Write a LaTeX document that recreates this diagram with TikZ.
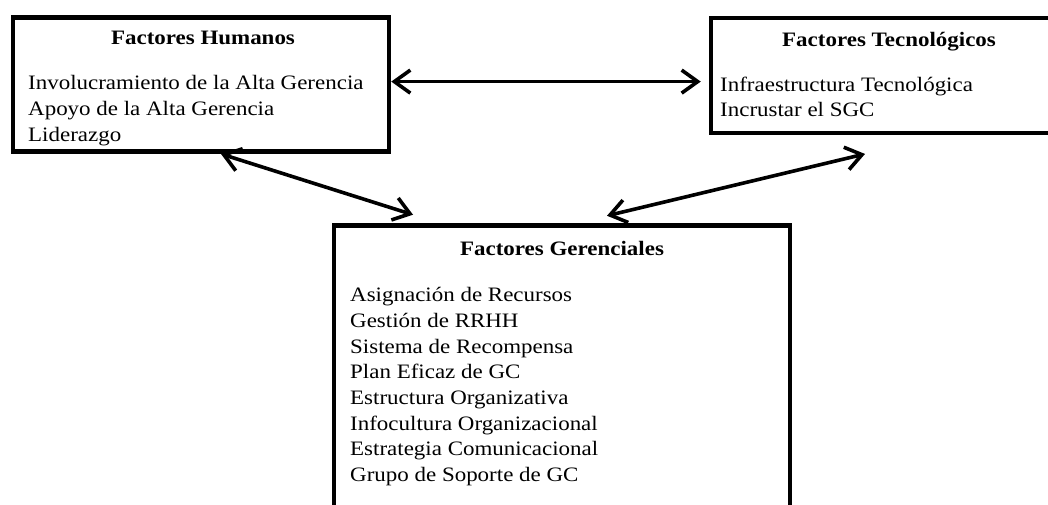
\documentclass[tikz,border=0pt]{standalone}
\usepackage{fontspec}
\setmainfont{Liberation Serif}[FakeStretch=1.12]
\usetikzlibrary{arrows.meta}
\tikzset{
  box/.style={draw=black, line width=4.5pt, rectangle, inner sep=0pt},
  head/.style={font=\fontsize{20.5}{26}\selectfont\bfseries, inner sep=0pt, anchor=base},
  body/.style={font=\fontsize{20.5}{26}\selectfont, inner sep=0pt, anchor=base west},
  arr/.style={line width=3.6pt, line cap=round,
    {Straight Barb[length=16pt,width=23pt]}-{Straight Barb[length=16pt,width=23pt]}}
}
\begin{document}
\begin{tikzpicture}[x=1pt,y=-1pt]
\useasboundingbox (0,0) rectangle (1048,505);
\clip (0,0) rectangle (1048,505);
% boxes
\node[box, minimum width=376pt, minimum height=134.2pt] (hum) at (201,84.6) {};
\node[box, minimum width=356pt, minimum height=115pt] (tec) at (889,75.5) {};
\node[box, minimum width=456pt, minimum height=340pt] (ger) at (562,395.5) {};
% headers
\node[head] (humh) at (203,45) {Factores Humanos};
\node[head] (tech) at (889,46.7) {Factores Tecnológicos};
\node[head] (gerh) at (562,255) {Factores Gerenciales};
% body lines
\foreach \t [count=\i] in {Involucramiento de la Alta Gerencia, Apoyo de la Alta Gerencia, Liderazgo}
  \node[body] (humb\i) at (28,{89.3+26.2*(\i-1)}) {\t};
\foreach \t [count=\i] in {Infraestructura Tecnológica, Incrustar el SGC}
  \node[body] (tecb\i) at (720,{91.7+25*(\i-1)}) {\t};
\foreach \t [count=\i] in {Asignación de Recursos, Gestión de RRHH, Sistema de Recompensa, Plan Eficaz de GC, Estructura Organizativa, Infocultura Organizacional, Estrategia Comunicacional, Grupo de Soporte de GC}
  \node[body] (gerb\i) at (350,{301.7+25.7*(\i-1)}) {\t};
% connectors
\draw[arr] ([yshift=3pt]hum.east) -- ([yshift=3pt,xshift=-8pt]hum.east -| tec.west);
\draw[arr] ([xshift=20pt]hum.south) -- ([xshift=-149pt,yshift=8.5pt]ger.north);
\draw[arr] ([xshift=-24pt,yshift=-18.7pt]tec.south) -- ([xshift=45pt,yshift=7.5pt]ger.north);
\end{tikzpicture}
\end{document}
